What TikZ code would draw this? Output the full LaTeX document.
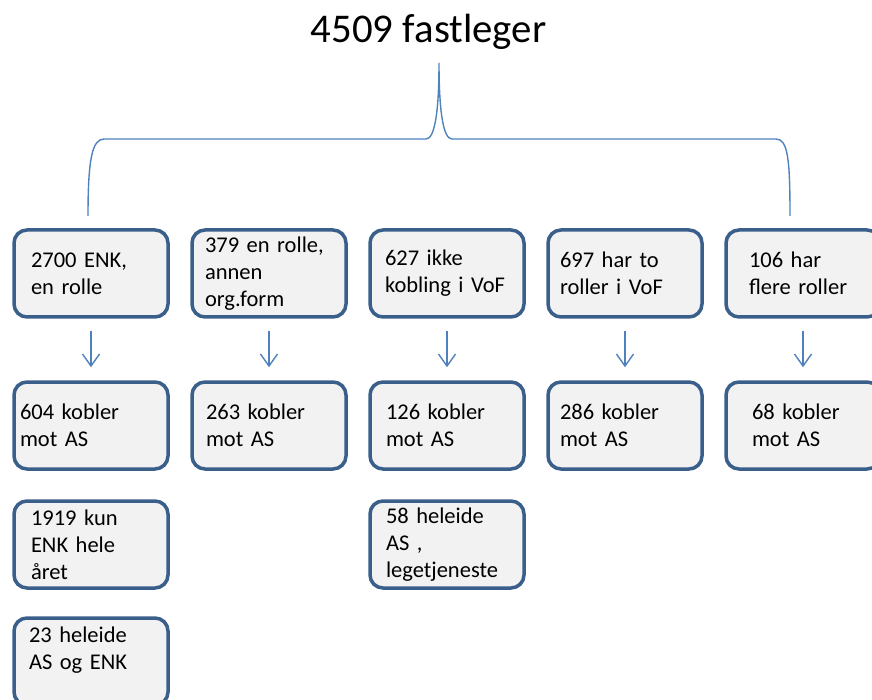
\documentclass[tikz,border=0pt]{standalone}
\usepackage{fontspec}
\setmainfont{Carlito}
\usetikzlibrary{arrows.meta,positioning}

\definecolor{boxedge}{RGB}{59,95,139}
\definecolor{boxfill}{RGB}{242,242,242}
\definecolor{linkblue}{RGB}{79,129,189}

\begin{document}
\begin{tikzpicture}[x=1pt, y=-1pt, >={Straight Barb[length=12pt,width=17pt]}, node distance=178pt,
	box/.style={draw=boxedge, fill=boxfill, line width=3.5pt, rounded corners=13pt, align=left,
		minimum height=87pt, inner xsep=#1, text width=154pt-2*#1, font=\fontsize{22.5}{27}\selectfont},
	link/.style={draw=linkblue, line width=1.4pt}]
	\useasboundingbox (0,0) rectangle (872,700);

	% Heading and brace
	\node (head) [anchor=base, font=\fontsize{40.8}{48}\selectfont] at (428.5,43) {4509 fastleger};
	\coordinate (tip) at (439,63);
	\coordinate (bl)  at (88,216);
	\coordinate (br)  at (790,216);
	\draw [link] (bl) .. controls (88,160) and (92,139) .. (104,139) -- (426,139)
		.. controls (435,139) and (439,110) .. (tip)
		.. controls (439,110) and (443,139) .. (452,139) -- (776,139)
		.. controls (788,139) and (790,160) .. (br);

	% Nodes {g1..g5, k1..k5, x1..x3}
	\node [box=17pt] (g1) at (91,273.5) {2700 ENK,\\en rolle};
	\node [box=13pt] (g2) [right of=g1] {379 en rolle,\\annen\\org.form};
	\node [box=15pt] (g3) [right of=g2] {627 ikke\\kobling i VoF};
	\node [box=12pt] (g4) [right of=g3] {697 har to\\roller i VoF};
	\node [box=23pt] (g5) [right of=g4] {106 har\\flere roller};

	\node [box=6pt]  (k1) [node distance=152pt, below of=g1] {604 kobler\\mot AS};
	\node [box=14pt] (k2) [node distance=152pt, below of=g2] {263 kobler\\mot AS};
	\node [box=16pt] (k3) [node distance=152pt, below of=g3] {126 kobler\\mot AS};
	\node [box=12pt] (k4) [node distance=152pt, below of=g4] {286 kobler\\mot AS};
	\node [box=26pt] (k5) [node distance=152pt, below of=g5] {68 kobler\\mot AS};

	\node [box=17pt] (x1) [node distance=119pt, below of=k1] {1919 kun\\ENK hele\\året};
	\node [box=16pt] (x3) [node distance=119pt, below of=k3] {58 heleide\\AS ,\\legetjeneste};
	\node [box=15pt] (x2) [node distance=117pt, below of=x1] {23 heleide\\AS og ENK\\\mbox{}};

	% Paths
	\path [->, link, shorten <=12pt, shorten >=13pt] (g1) edge (k1);
	\path [->, link, shorten <=12pt, shorten >=13pt] (g2) edge (k2);
	\path [->, link, shorten <=12pt, shorten >=13pt] (g3) edge (k3);
	\path [->, link, shorten <=12pt, shorten >=13pt] (g4) edge (k4);
	\path [->, link, shorten <=12pt, shorten >=13pt] (g5) edge (k5);
\end{tikzpicture}
\end{document}
